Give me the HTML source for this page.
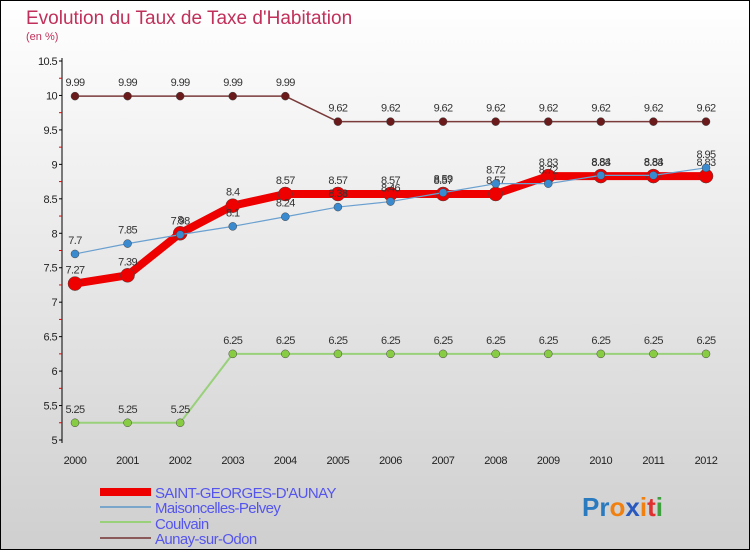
<!DOCTYPE html>
<html><head><meta charset="utf-8"><style>
body{margin:0}
#c{width:750px;height:550px;position:relative;overflow:hidden;font-family:"Liberation Sans",sans-serif}
</style></head><body>
<div id="c">
<svg id="s" width="750" height="550" xmlns="http://www.w3.org/2000/svg">
<defs><linearGradient id="bg" x1="0" y1="0" x2="0" y2="1"><stop offset="0" stop-color="#ffffff"/><stop offset="1" stop-color="#cfcfcf"/></linearGradient></defs>
<rect x="0.5" y="0.5" width="749" height="549" fill="url(#bg)" stroke="#000"/>
<text x="26" y="24" font-size="19" fill="#c0305a">Evolution du Taux de Taxe d'Habitation</text>
<text x="26" y="40" font-size="11" fill="#c0305a">(en %)</text>
<g id="ax"></g><g id="series"></g>
<g>
<rect x="100" y="488" width="51" height="8" fill="#e00"/>
<line x1="100" y1="507" x2="151" y2="507" stroke="#7aa6cc" stroke-width="2"/>
<line x1="100" y1="522" x2="151" y2="522" stroke="#99d07a" stroke-width="2"/>
<line x1="100" y1="538" x2="151" y2="538" stroke="#8a5a5a" stroke-width="2"/>
<g font-size="15" fill="#5555ee" letter-spacing="-0.6">
<text x="155" y="498">SAINT-GEORGES-D'AUNAY</text>
<text x="155" y="513">Maisoncelles-Pelvey</text>
<text x="155" y="529">Coulvain</text>
<text x="155" y="544">Aunay-sur-Odon</text>
</g></g>
<text x="582" y="516" font-size="26" font-weight="bold"><tspan fill="#2a7ac0">Pr</tspan><tspan fill="#f08010">o</tspan><tspan fill="#2a5ac0">x</tspan><tspan fill="#f08010">i</tspan><tspan fill="#e03030">t</tspan><tspan fill="#40a040">i</tspan></text>
</svg></div>
<script>
const years=[2000,2001,2002,2003,2004,2005,2006,2007,2008,2009,2010,2011,2012];
const yTicks=[5,5.5,6,6.5,7,7.5,8,8.5,9,9.5,10,10.5];
const sga=[7.27,7.39,8,8.4,8.57,8.57,8.57,8.57,8.57,8.83,8.83,8.83,8.83];
const maison=[7.7,7.85,7.98,8.1,8.24,8.38,8.46,8.59,8.72,8.72,8.84,8.84,8.95];
const coulvain=[5.25,5.25,5.25,6.25,6.25,6.25,6.25,6.25,6.25,6.25,6.25,6.25,6.25];
const aunay=[9.99,9.99,9.99,9.99,9.99,9.62,9.62,9.62,9.62,9.62,9.62,9.62,9.62];
const NS="http://www.w3.org/2000/svg";
const X=i=>75+i*(706-75)/(years.length-1);
const Y=v=>440-(v-5)*(440-61)/5.5;
function mk(p,t,a){const e=document.createElementNS(NS,t);for(const k in a)e.setAttribute(k,a[k]);p.appendChild(e);return e;}
const ax=document.getElementById('ax');
let e=mk(ax,'line',{x1:62,y1:58,x2:62,y2:443,stroke:'#000'});


yTicks.forEach(v=>{
 mk(ax,'line',{x1:59,y1:Y(v),x2:62,y2:Y(v),stroke:'#000'});
 if(v<10.5) mk(ax,'line',{x1:59,y1:Y(v+0.25),x2:62,y2:Y(v+0.25),stroke:'#e00'});
 const t=mk(ax,'text',{x:57,y:Y(v)+4,'font-size':11,'text-anchor':'end','letter-spacing':'-0.6',fill:'#222'});
 t.textContent=v;
 
 
});
years.forEach((y,i)=>{
 const t=mk(ax,'text',{x:X(i),y:464,'font-size':11,'text-anchor':'middle','letter-spacing':'-0.4',fill:'#222'});
 t.textContent=y;
 
 
});
const sg=document.getElementById('series');
function draw(name,vals,color,w,r,fill){
 const g=mk(sg,'g',{});
 
 
 mk(g,'polyline',{points:vals.map((v,i)=>X(i)+','+Y(v)).join(' '),fill:'none',stroke:color,'stroke-width':w,'stroke-linejoin':'round'});
 vals.forEach((v,i)=>{
  const c=mk(g,'circle',{cx:X(i),cy:Y(v),r:r,fill:fill,stroke:'#444','stroke-width':0.5});
  
  
  const t=mk(g,'text',{x:X(i),y:Y(v)-10,'font-size':11,'text-anchor':'middle','letter-spacing':'-0.6',fill:'#333'});
  t.textContent=v;
  
  
 });
}
draw('series-aunay',aunay,'#7a3a3a',1.5,4,'#6a1a1a');
draw('series-coulvain',coulvain,'#99d07a',2,4,'#88cc44');
draw('series-saint-georges',sga,'#ee0000',8,7,'#ee0000');
draw('series-maisoncelles',maison,'#6aa0d0',1.2,4,'#3a8ad0');
</script>
</body></html>
